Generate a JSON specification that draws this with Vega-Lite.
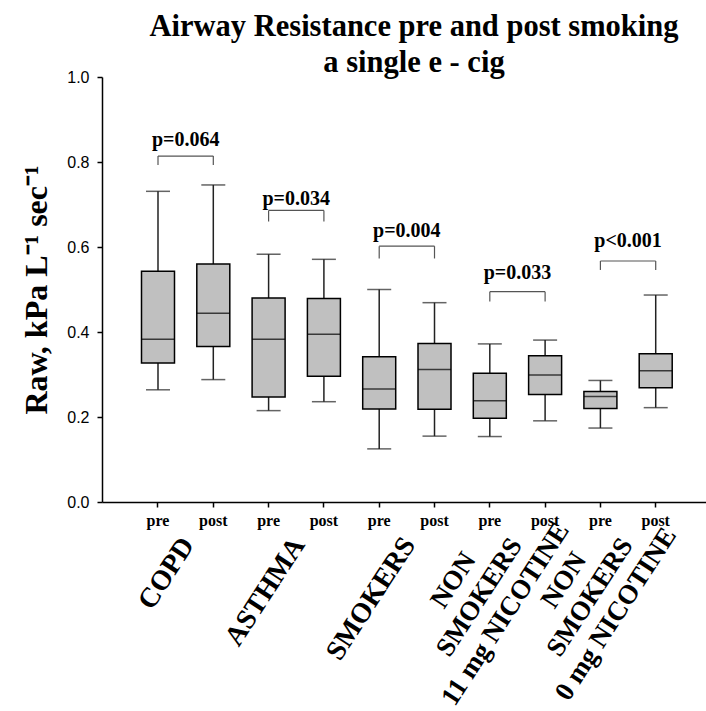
{
  "$schema": "https://vega.github.io/schema/vega-lite/v6.json",
  "width": 604,
  "height": 425,
  "autosize": "none",
  "padding": {"left": 102, "top": 77, "right": 0, "bottom": 209},
  "background": "white",
  "config": {
    "view": {"stroke": null},
    "axis": {"grid": false, "domainColor": "black", "tickColor": "black", "labelColor": "black", "titleColor": "black"}
  },
  "title": {
    "text": ["Airway Resistance pre and post smoking", "a single e - cig"],
    "font": "Liberation Serif",
    "fontSize": 30.5,
    "fontWeight": "bold",
    "lineHeight": 36,
    "anchor": "middle",
    "dx": 10,
    "offset": -9,
    "color": "black"
  },
  "datasets": {
    "boxes": [
      {"id": "COPD|pre", "lo": 0.264, "q1": 0.327, "med": 0.383, "q3": 0.543, "hi": 0.731},
      {"id": "COPD|post", "lo": 0.288, "q1": 0.366, "med": 0.444, "q3": 0.56, "hi": 0.746},
      {"id": "ASTHMA|pre", "lo": 0.215, "q1": 0.247, "med": 0.383, "q3": 0.48, "hi": 0.583},
      {"id": "ASTHMA|post", "lo": 0.236, "q1": 0.296, "med": 0.395, "q3": 0.479, "hi": 0.571},
      {"id": "SMOKERS|pre", "lo": 0.125, "q1": 0.219, "med": 0.266, "q3": 0.342, "hi": 0.5},
      {"id": "SMOKERS|post", "lo": 0.155, "q1": 0.218, "med": 0.312, "q3": 0.373, "hi": 0.469},
      {"id": "NS11|pre", "lo": 0.154, "q1": 0.197, "med": 0.238, "q3": 0.303, "hi": 0.372},
      {"id": "NS11|post", "lo": 0.191, "q1": 0.253, "med": 0.299, "q3": 0.344, "hi": 0.381},
      {"id": "NS0|pre", "lo": 0.174, "q1": 0.22, "med": 0.248, "q3": 0.26, "hi": 0.286},
      {"id": "NS0|post", "lo": 0.222, "q1": 0.269, "med": 0.309, "q3": 0.349, "hi": 0.487}
    ],
    "brackets": [
      {"pre": "COPD|pre", "post": "COPD|post", "yb": 0.814, "ye": 0.793, "yt": 0.838, "p": "p=0.064"},
      {"pre": "ASTHMA|pre", "post": "ASTHMA|post", "yb": 0.686, "ye": 0.66, "yt": 0.7, "p": "p=0.034"},
      {"pre": "SMOKERS|pre", "post": "SMOKERS|post", "yb": 0.602, "ye": 0.573, "yt": 0.624, "p": "p=0.004"},
      {"pre": "NS11|pre", "post": "NS11|post", "yb": 0.495, "ye": 0.472, "yt": 0.524, "p": "p=0.033"},
      {"pre": "NS0|pre", "post": "NS0|post", "yb": 0.567, "ye": 0.546, "yt": 0.601, "p": "p<0.001"}
    ],
    "labels1": [
      {"pre": "COPD|pre", "label": "COPD"},
      {"pre": "ASTHMA|pre", "label": "ASTHMA"},
      {"pre": "SMOKERS|pre", "label": "SMOKERS"}
    ],
    "labels3": [
      {"pre": "NS11|pre", "label": "NON\nSMOKERS\n11 mg NICOTINE"},
      {"pre": "NS0|pre", "label": "NON\nSMOKERS\n0 mg NICOTINE"}
    ]
  },
  "layer": [
    {
      "data": {"name": "boxes"},
      "mark": {"type": "rule", "color": "#222", "strokeWidth": 1.5},
      "encoding": {
        "x": {
          "field": "id", "type": "nominal",
          "scale": {
            "domain": ["COPD|pre", "COPD|post", "ASTHMA|pre", "ASTHMA|post", "SMOKERS|pre", "SMOKERS|post", "NS11|pre", "NS11|post", "NS0|pre", "NS0|post"],
            "paddingInner": 0, "paddingOuter": 0.461, "align": 0.556
          },
          "axis": {
            "title": null,
            "labelExpr": "split(datum.value, '|')[1]",
            "labelAngle": 0,
            "labelFont": "Liberation Serif",
            "labelFontWeight": "bold",
            "labelFontSize": 16,
            "labelPadding": 5,
            "tickSize": 5,
            "tickWidth": 1.5,
            "domainWidth": 1.5
          }
        },
        "y": {
          "field": "lo", "type": "quantitative",
          "scale": {"domain": [0, 1], "nice": false, "zero": false},
          "axis": {
            "title": "Raw, kPa L\u207b\u00b9 sec\u207b\u00b9",
            "titleFont": "Liberation Serif",
            "titleFontWeight": "bold",
            "titleFontSize": 32,
            "titlePadding": 13,
            "values": [0, 0.2, 0.4, 0.6, 0.8, 1.0],
            "format": ".1f",
            "labelFont": "Liberation Sans",
            "labelFontSize": 16,
            "labelPadding": 8,
            "tickSize": 5,
            "tickWidth": 1.5,
            "domainWidth": 1.5
          }
        },
        "y2": {"field": "hi"}
      }
    },
    {
      "data": {"name": "boxes"},
      "mark": {"type": "tick", "color": "#222", "size": 24, "thickness": 1.5},
      "encoding": {
        "x": {"field": "id", "type": "nominal"},
        "y": {"field": "lo", "type": "quantitative"}
      }
    },
    {
      "data": {"name": "boxes"},
      "mark": {"type": "tick", "color": "#222", "size": 24, "thickness": 1.5},
      "encoding": {
        "x": {"field": "id", "type": "nominal"},
        "y": {"field": "hi", "type": "quantitative"}
      }
    },
    {
      "data": {"name": "boxes"},
      "mark": {"type": "bar", "width": 33, "fill": "#c0c0c0", "stroke": "black", "strokeWidth": 1.5},
      "encoding": {
        "x": {"field": "id", "type": "nominal"},
        "y": {"field": "q1", "type": "quantitative"},
        "y2": {"field": "q3"}
      }
    },
    {
      "data": {"name": "boxes"},
      "mark": {"type": "tick", "color": "black", "size": 33, "thickness": 1.5},
      "encoding": {
        "x": {"field": "id", "type": "nominal"},
        "y": {"field": "med", "type": "quantitative"}
      }
    },
    {
      "data": {"name": "brackets"},
      "mark": {"type": "rule", "color": "#555", "strokeWidth": 1.2},
      "encoding": {
        "x": {"field": "pre", "type": "nominal"},
        "x2": {"field": "post"},
        "y": {"field": "yb", "type": "quantitative"}
      }
    },
    {
      "data": {"name": "brackets"},
      "mark": {"type": "rule", "color": "#555", "strokeWidth": 1.2},
      "encoding": {
        "x": {"field": "pre", "type": "nominal"},
        "y": {"field": "yb", "type": "quantitative"},
        "y2": {"field": "ye"}
      }
    },
    {
      "data": {"name": "brackets"},
      "mark": {"type": "rule", "color": "#555", "strokeWidth": 1.2},
      "encoding": {
        "x": {"field": "post", "type": "nominal"},
        "y": {"field": "yb", "type": "quantitative"},
        "y2": {"field": "ye"}
      }
    },
    {
      "data": {"name": "brackets"},
      "mark": {"type": "text", "font": "Liberation Serif", "fontWeight": "bold", "fontSize": 20, "color": "black", "align": "center", "baseline": "alphabetic"},
      "encoding": {
        "x": {"field": "pre", "type": "nominal", "bandPosition": 1},
        "y": {"field": "yt", "type": "quantitative"},
        "text": {"field": "p"}
      }
    },
    {
      "data": {"name": "labels1"},
      "mark": {"type": "text", "font": "Liberation Serif", "fontWeight": "bold", "fontSize": 28, "color": "black", "align": "right", "baseline": "middle", "angle": -57, "dx": 5},
      "encoding": {
        "x": {"field": "pre", "type": "nominal", "bandPosition": 1},
        "y": {"datum": -0.1, "type": "quantitative"},
        "text": {"field": "label"}
      }
    },
    {
      "data": {"name": "labels3"},
      "mark": {"type": "text", "font": "Liberation Serif", "fontWeight": "bold", "fontSize": 27, "lineHeight": 31, "lineBreak": "\n", "color": "black", "align": "center", "baseline": "middle", "angle": -57, "dx": -65, "dy": -34},
      "encoding": {
        "x": {"field": "pre", "type": "nominal", "bandPosition": 1},
        "y": {"datum": -0.1, "type": "quantitative"},
        "text": {"field": "label"}
      }
    }
  ]
}
